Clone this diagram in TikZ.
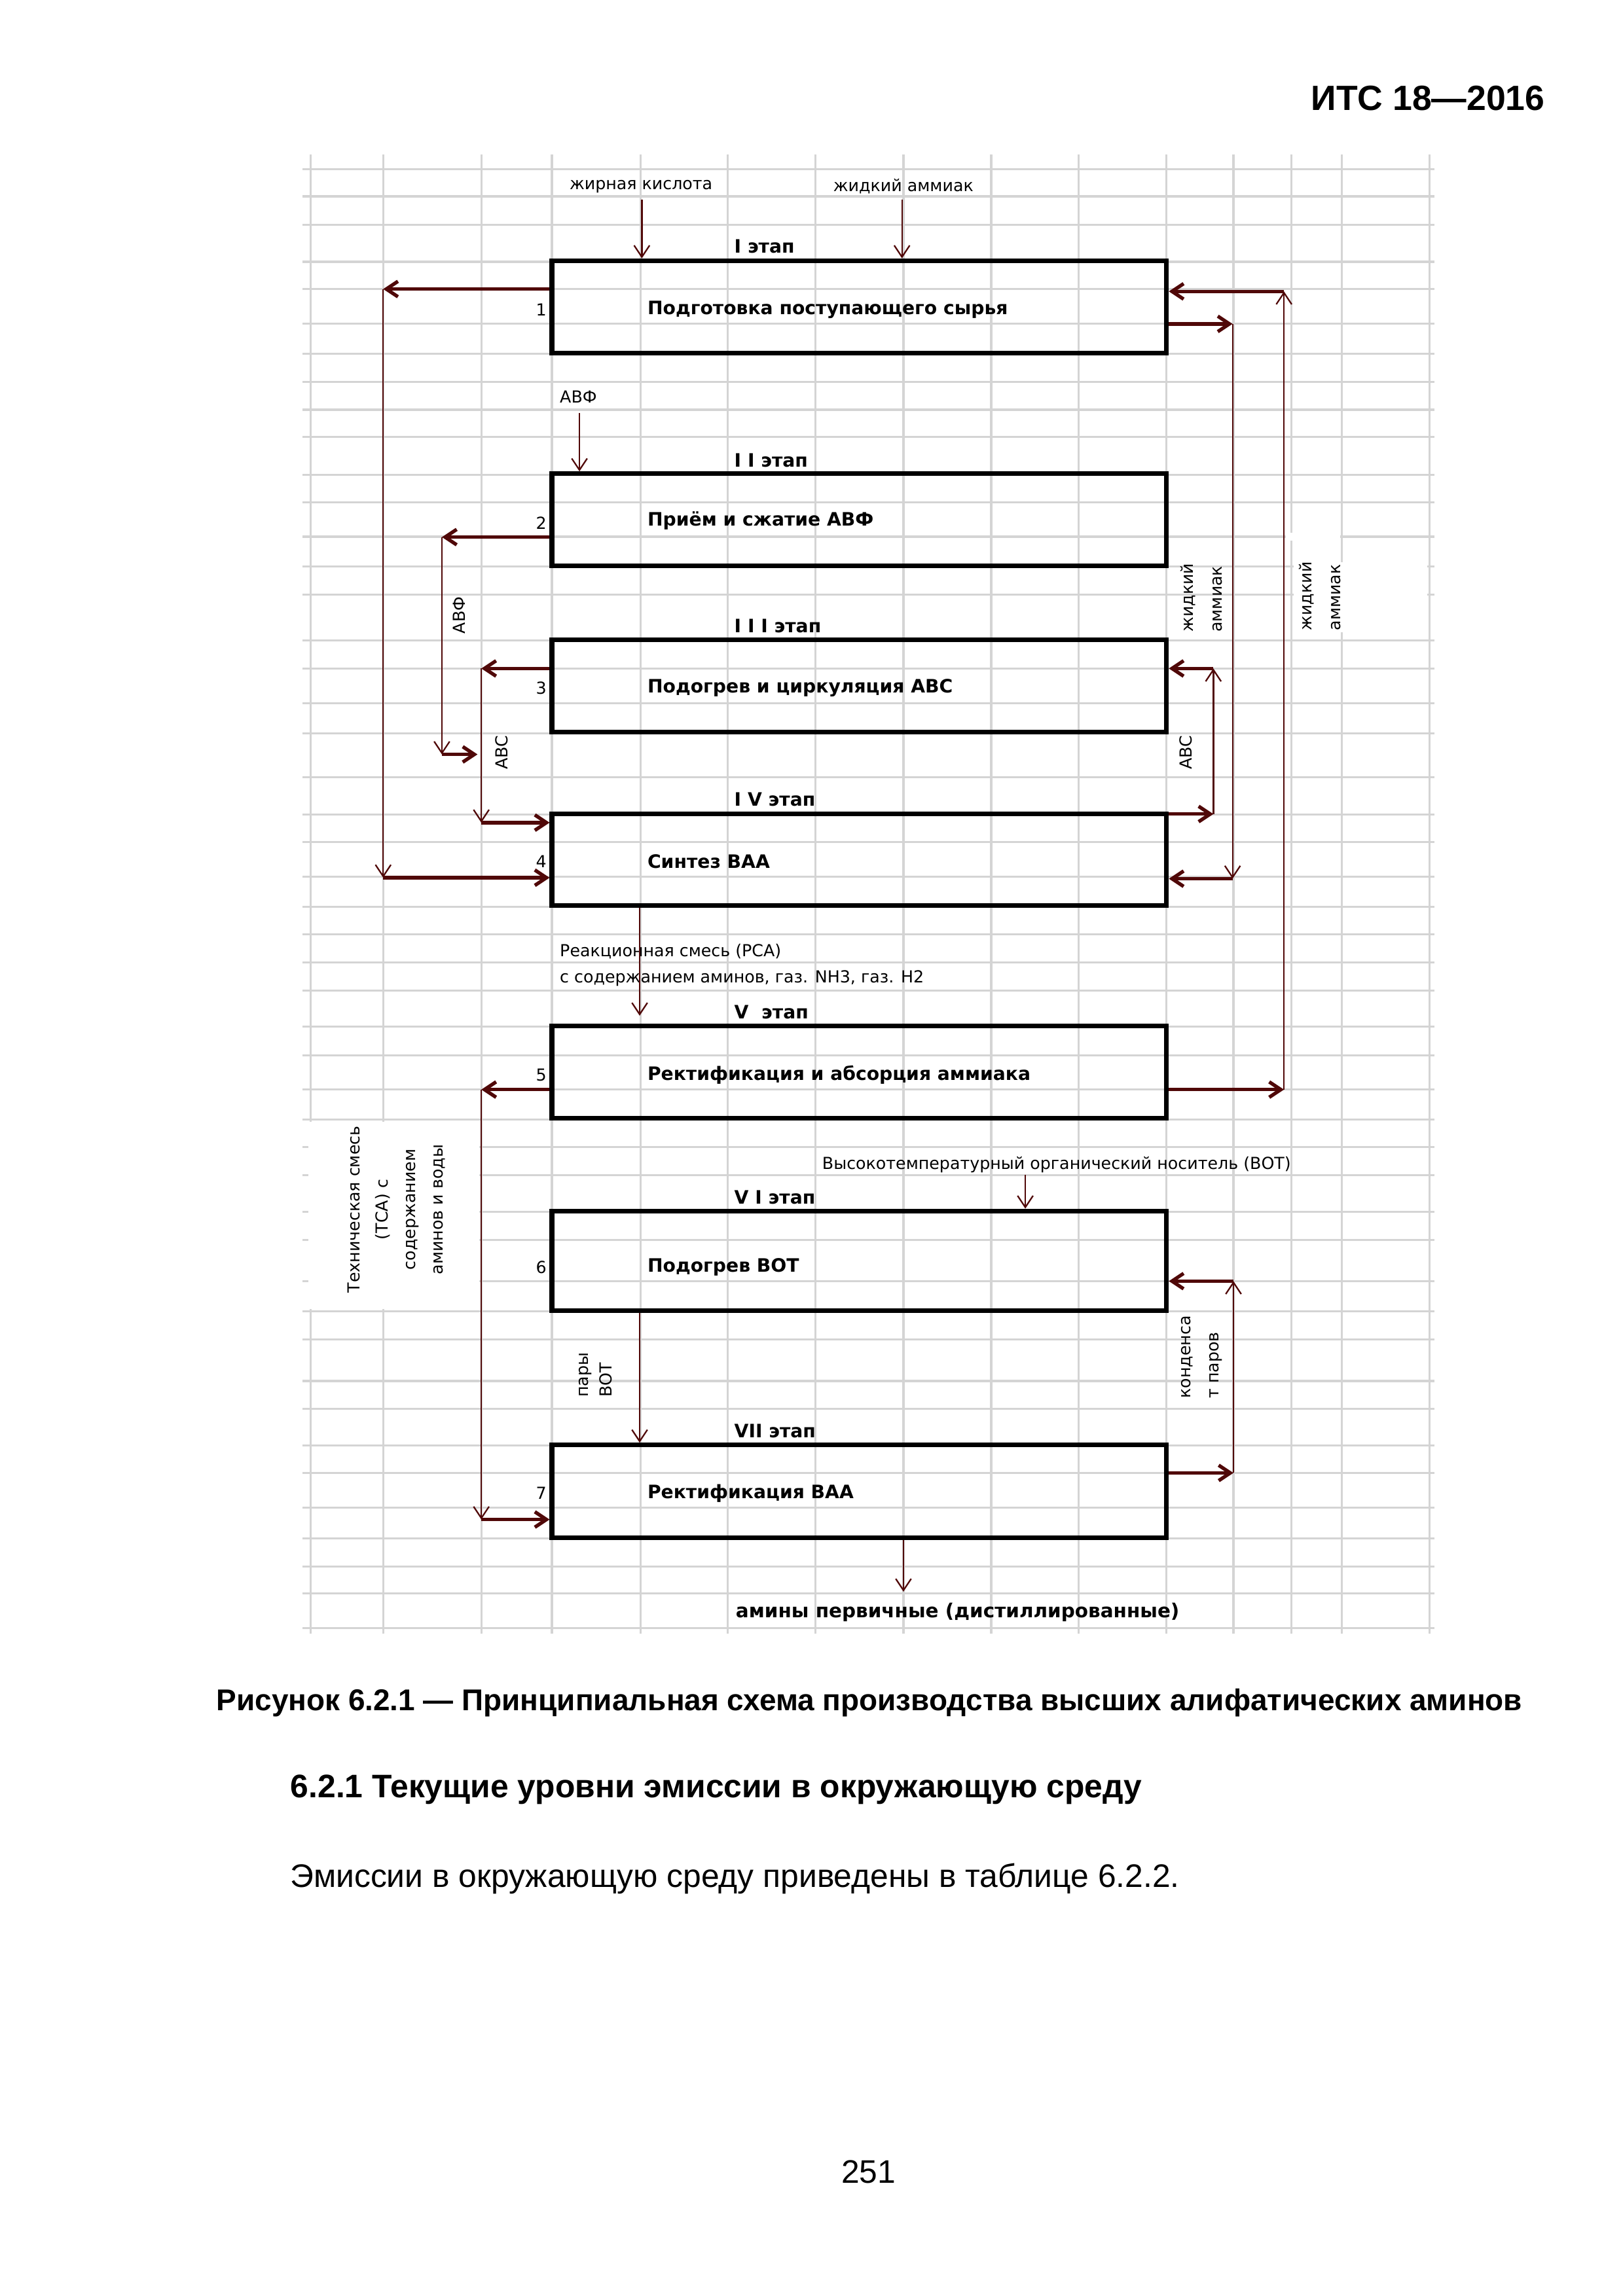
\documentclass[tikz,border=0pt]{standalone}
\usepackage{fontspec}
\setmainfont{Liberation Sans}
\newfontfamily\djv{DejaVu Sans}
\usetikzlibrary{arrows.meta,fit}
\definecolor{gridc}{RGB}{212,212,212}
\definecolor{flow}{RGB}{80,8,8}
\begin{document}
\begin{tikzpicture}[x=0.18953mm,y=-0.18953mm,
  gl/.style={draw=gridc,line width=0.75pt},
  box/.style={draw=black,line width=1.7pt,inner sep=0pt},
  fl/.style={draw=flow,line width=0.55pt,-{Straight Barb[length=1.5mm,width=2mm]}},
  fk/.style={fl,line width=1.3pt},
  sm/.style={font=\djv\fontsize{6.1}{7.3}\selectfont,inner sep=0pt},
  bd/.style={font=\djv\bfseries\fontsize{6.8}{8}\selectfont,inner sep=0pt},
  rot/.style={sm,rotate=90,align=left,anchor=west},
  pg/.style={inner sep=0pt,font=\fontsize{12}{15}\selectfont},
  pgb/.style={inner sep=0pt,font=\bfseries\fontsize{12}{15}\selectfont}]
\useasboundingbox (0,0) rectangle (1108,1568);
\fill[white] (0,0) rectangle (1108,1568);
% grid
\foreach \x in {211.9,261.6,328.6,376.8,437.2,497.0,556.9,616.8,676.7,736.5,796.4,842.1,881.6,916.1,976.0}
  \draw[gl] (\x,105.5) -- (\x,1115.8);
\foreach \y in {115.5,134.1,153.5,178.8,197.4,221.2,241.6,260.7,279.8,298.5,324.1,342.9,366.5,386.8,406.0,437.4,456.5,480.2,500.7,530.7,556.3,574.9,598.6,619.3,638.1,657.1,676.3,701.0,720.7,744.1,764.6,783.5,802.6,827.7,846.9,874.9,895.4,914.6,943.1,962.3,987.0,1005.9,1029.8,1050.6,1069.7,1088.0,1111.9}
  \draw[gl] (206.7,\y) -- (979.5,\y);
\fill[white] (210.5,766) rectangle (327.3,894);
\fill[white] (883,384) rectangle (974.5,432);
\fill[white] (878,364) rectangle (915,369);
% boxes
\node[box,fit={(376.8,178) (796.4,241)}] (b1) {};
\node[box,fit={(376.8,323.5) (796.4,386.5)}] (b2) {};
\node[box,fit={(376.8,437) (796.4,500)}] (b3) {};
\node[box,fit={(376.8,555.7) (796.4,618.5)}] (b4) {};
\node[box,fit={(376.8,700.5) (796.4,763.8)}] (b5) {};
\node[box,fit={(376.8,827) (796.4,895)}] (b6) {};
\node[box,fit={(376.8,986.8) (796.4,1050)}] (b7) {};
% box texts
\node[bd,anchor=west] (s1) at (501,168.4) {I этап};
\node[bd,anchor=west] (s2) at (501,314.2) {I I этап};
\node[bd,anchor=west] (s3) at (501,427.5) {I I I этап};
\node[bd,anchor=west] (s4) at (501,545.9) {I V этап};
\node[bd,anchor=west] (s5) at (501,691.1) {V\ \ этап};
\node[bd,anchor=west] (s6) at (501,817.7) {V I этап};
\node[bd,anchor=west] (s7) at (501,977.3) {VII этап};
\node[bd,anchor=west] (l1) at (441.7,211.6) {Подготовка поступающего сырья};
\node[bd,anchor=west] (l2) at (441.7,355.7) {Приём и сжатие АВФ};
\node[bd,anchor=west] (l3) at (441.7,469.8) {Подогрев и циркуляция АВС};
\node[bd,anchor=west] (l4) at (441.7,588.2) {Синтез ВАА};
\node[bd,anchor=west] (l5) at (441.7,734.2) {Ректификация и абсорция аммиака};
\node[bd,anchor=west] (l6) at (441.7,865.4) {Подогрев ВОТ};
\node[bd,anchor=west] (l7) at (441.7,1019.8) {Ректификация ВАА};
\node[sm,anchor=east] (n1) at (373.5,211.6) {1};
\node[sm,anchor=east] (n2) at (373.5,357.3) {2};
\node[sm,anchor=east] (n3) at (373.5,469.8) {3};
\node[sm,anchor=east] (n4) at (373.5,588.2) {4};
\node[sm,anchor=east] (n5) at (373.5,734.2) {5};
\node[sm,anchor=east] (n6) at (373.5,865.4) {6};
\node[sm,anchor=east] (n7) at (373.5,1019.8) {7};
% small labels
\node[sm,anchor=west] (tk) at (388.5,127.4) {жирная кислота};
\node[sm,anchor=west] (ta) at (568.6,127.4) {жидкий аммиак};
\node[sm,anchor=west] (tf) at (381.9,271) {АВФ};
\node[sm,anchor=west] (tr1) at (381.9,649.6) {Реакционная смесь (РСА)};
\node[sm,anchor=west] (tr2) at (381.9,668) {с содержанием аминов, газ. NH3, газ. H2};
\node[sm,anchor=west] (tv) at (561,795.3) {Высокотемпературный органический носитель (ВОТ)};
\node[bd,anchor=west,font=\djv\bfseries\fontsize{7.1}{8}\selectfont] (tam) at (502,1101) {амины первичные (дистиллированные)};
\node[rot] (rf) at (313.4,433.1) {АВФ};
\node[rot] (rc1) at (342.3,525.9) {АВС};
\node[rot] (rc2) at (809.6,525.9) {АВС};
\node[rot,font=\djv\fontsize{6.1}{10.5}\selectfont] (ra1) at (820.2,432) {жидкий\\аммиак};
\node[rot,font=\djv\fontsize{6.1}{10.5}\selectfont] (ra2) at (901,431) {жидкий\\аммиак};
\node[rot,font=\djv\fontsize{6.1}{8.7}\selectfont] (rp) at (406.7,954.6) {пары\\ВОТ};
\node[rot,font=\djv\fontsize{6.1}{10.4}\selectfont] (rk) at (820.3,955.4) {конденса\\т паров};
\node[sm,rotate=90,align=center,font=\djv\fontsize{6.1}{10.2}\selectfont] (rt) at (270.8,826) {Техническая смесь\\(ТСА) с\\содержанием\\аминов и воды};
% connector points
\coordinate (a) at (438.2,136.3);
\coordinate (bb) at (615.8,136.3);
\coordinate (f) at (395.6,282.2);
\coordinate (c1) at (261.6,197.4);
\coordinate (c2) at (261.6,599.4);
\coordinate (d1) at (876.6,744.1);
\coordinate (d2) at (876.6,199);
\coordinate (e1) at (841.5,221.2);
\coordinate (e2) at (841.5,600.1);
\coordinate (g1) at (301.7,366.8);
\coordinate (g2) at (301.7,515.2);
\coordinate (g3) at (326,515.2);
\coordinate (h1) at (328.6,456.5);
\coordinate (h2) at (328.6,561.8);
\coordinate (i1) at (828.4,555.9);
\coordinate (i2) at (828.4,456.5);
\coordinate (j) at (436.7,650);
\coordinate (k1) at (328.6,744.1);
\coordinate (k2) at (328.6,1037.7);
\coordinate (m) at (700,802.3);
\coordinate (n) at (436.7,940);
\coordinate (o1) at (842.1,1005.9);
\coordinate (o2) at (842.1,874.9);
\coordinate (p) at (616.8,1087);
% connectors
\draw[fl] (a) -- (a|-b1.north);
\draw[fl] (bb) -- (bb|-b1.north);
\draw[fl] (f) -- (f|-b2.north);
\draw[fk] (b1.west|-c1) -- (c1);
\draw[fl] (c1) -- (c2);
\draw[fk] (c2) -- (b4.west|-c2);
\draw[fk] (b5.east|-d1) -- (d1);
\draw[fl] (d1) -- (d2);
\draw[fk] (d2) -- (b1.east|-d2);
\draw[fk] (b1.east|-e1) -- (e1);
\draw[fl] (e1) -- (e2);
\draw[fk] (e2) -- (b4.east|-e2);
\draw[fk] (b2.west|-g1) -- (g1);
\draw[fl] (g1) -- (g2);
\draw[fk] (g2) -- (g3);
\draw[fk] (b3.west|-h1) -- (h1);
\draw[fl] (h1) -- (h2);
\draw[fk] (h2) -- (b4.west|-h2);
\draw[fk] (b4.east|-i1) -- (i1);
\draw[fl] (i1) -- (i2);
\draw[fk] (i2) -- (b3.east|-i2);
\draw[fl,shorten >=1mm] (j|-b4.south) -- (j|-b5.north);
\draw[fk] (b5.west|-k1) -- (k1);
\draw[fl] (k1) -- (k2);
\draw[fk] (k2) -- (b7.west|-k2);
\draw[fl] (m) -- (m|-b6.north);
\draw[fl] (n|-b6.south) -- (n|-b7.north);
\draw[fk] (b7.east|-o1) -- (o1);
\draw[fl] (o1) -- (o2);
\draw[fk] (o2) -- (b6.east|-o2);
\draw[fl] (p|-b7.south) -- (p);
% page text
\node[pgb,anchor=east,font=\bfseries\fontsize{12.9}{15}\selectfont] (hdr) at (1055,67) {ИТС 18—2016};
\node[pgb,font=\bfseries\fontsize{11.07}{14}\selectfont] (cap) at (593.5,1163) {Рисунок 6.2.1 — Принципиальная схема производства высших алифатических аминов};
\node[pgb,anchor=west] (sec) at (198,1222) {6.2.1 Текущие уровни эмиссии в окружающую среду};
\node[pg,anchor=west] (body) at (198,1283) {Эмиссии в окружающую среду приведены в таблице 6.2.2.};
\node[pg] (pno) at (593,1483) {251};
\end{tikzpicture}
\end{document}
